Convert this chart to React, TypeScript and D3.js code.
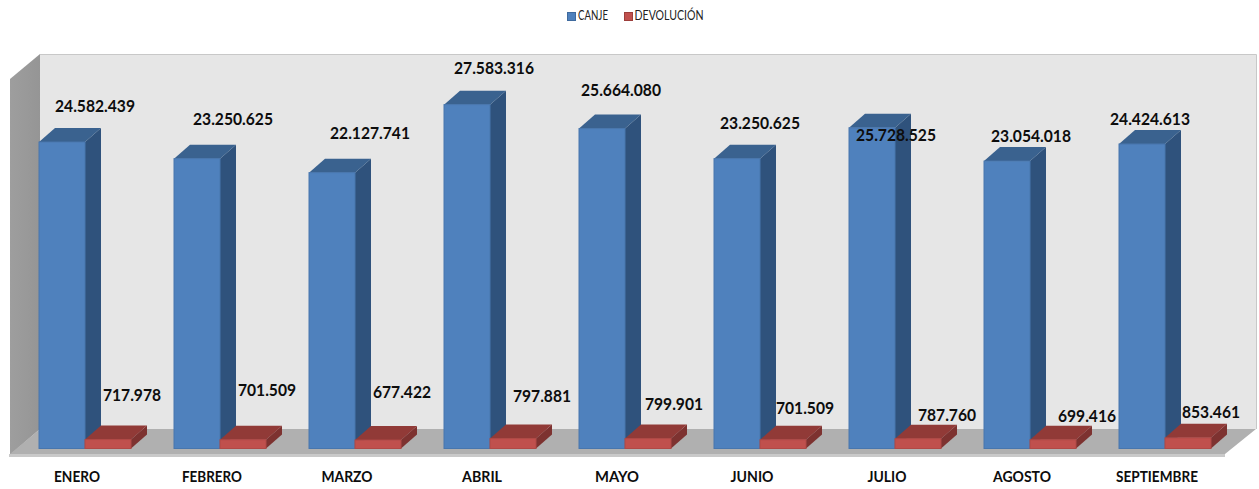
import React from "react";
import * as d3 from "d3";

const months = ["ENERO", "FEBRERO", "MARZO", "ABRIL", "MAYO", "JUNIO", "JULIO", "AGOSTO", "SEPTIEMBRE"];
const canje = [24582439, 23250625, 22127741, 27583316, 25664080, 23250625, 25728525, 23054018, 24424613];
const devolucion = [717978, 701509, 677422, 797881, 799901, 701509, 787760, 699416, 853461];
const seriesNames = ["CANJE", "DEVOLUCIÓN"];

// Hand-placed label anchors of the original (centre x, baseline-middle y), layout only.
const canjeLabelPos = [[95, 108], [233, 121], [370, 135], [494, 70], [621, 92], [760, 125], [896, 137], [1031, 138], [1150, 121]];
const devLabelPos = [[132, 397], [267, 392], [402, 394], [542, 398], [674, 406], [805, 410], [947, 417], [1087, 418], [1211, 414]];
const monthLabelWidths = [46, 60, 51, 40, 44, 43, 39, 58, 82];

const W = 1259, H = 489;
const DX = 16, DY = -14;
const FONT = "Lato, 'Open Sans', sans-serif";
const fmt = (v: number) => d3.format(",")(v).replace(/,/g, ".");

const x0 = d3.scaleBand<string>().domain(months).range([17.5, 1232.5]);
const x1 = d3.scaleBand<string>().domain(seriesNames).range([21.5, 113.5]);
const y = d3.scaleLinear().domain([0, 30000000]).range([448.5, 74.5]);

function Bar({ x, w, v, front, side, top }: { x: number; w: number; v: number; front: string; side: string; top: string }) {
  const yt = y(v), yb = y(0);
  const p = (pts: number[][]) => pts.map((q) => q.join(",")).join(" ");
  return (
    <g>
      <polygon points={p([[x + w, yt], [x + w + DX, yt + DY], [x + w + DX, yb + DY], [x + w, yb]])} fill={side} />
      <polygon points={p([[x, yt], [x + DX, yt + DY], [x + w + DX, yt + DY], [x + w, yt]])} fill={top} />
      <rect x={x} y={yt} width={w} height={yb - yt} fill={front} stroke={d3.color(front)!.darker(0.25).formatHex()} strokeWidth={1} />
    </g>
  );
}

export default function App() {
  return (
    <svg width={W} height={H} style={{ position: "absolute", left: 0, top: 0, background: "#fff" }}>
      <defs>
        <linearGradient id="wallL" x1="0" x2="1" y1="0" y2="0">
          <stop offset="0" stopColor="#9e9e9e" />
          <stop offset="1" stopColor="#959595" />
        </linearGradient>
      </defs>
      {/* walls and floor */}
      <polygon points="40,54 1256,54 1256,429 40,429" fill="#e6e6e6" />
      <path d="M40,54.5H1256.5V429" fill="none" stroke="#c8c8c8" strokeWidth={1} />
      <polygon points="10,79 40,54 40,429 10,455" fill="url(#wallL)" />
      <polygon points="10,454 40,429 1256,429 1225,454" fill="#b0b0b0" />
      <polygon points="9,454 1225,454 1225,457 9,457" fill="#c9c9c9" />

      {/* legend */}
      <rect x={567.5} y={12.5} width={8} height={8} fill="#4f81bd" stroke="#3f6a9e" />
      <text x={578} y={17} fontFamily={FONT} fontSize={12.5} dominantBaseline="middle" fill="#222" textLength={30} lengthAdjust="spacingAndGlyphs">{seriesNames[0]}</text>
      <rect x={624.5} y={12.5} width={8} height={8} fill="#c0504d" stroke="#9c3e3b" />
      <text x={634.5} y={17} fontFamily={FONT} fontSize={12.5} dominantBaseline="middle" fill="#222" textLength={69} lengthAdjust="spacingAndGlyphs">{seriesNames[1]}</text>

      {/* bars, back to front per category */}
      {months.map((m, i) => {
        const cx = x0(m)!;
        const w = x1.bandwidth();
        return (
          <g key={m}>
            <Bar x={cx + x1(seriesNames[0])!} w={w} v={canje[i]} front="#4f81bd" side="#2f527c" top="#3a628f" />
            <Bar x={cx + x1(seriesNames[1])!} w={w} v={devolucion[i]} front="#c0504d" side="#7d3230" top="#913a37" />
          </g>
        );
      })}

      {/* value labels */}
      {canje.map((v, i) => (
        <text key={i} x={canjeLabelPos[i][0]} y={canjeLabelPos[i][1]} textAnchor="middle" dominantBaseline="middle" fontFamily={FONT} fontWeight={700} fontSize={17} fill="#0d0d0d" textLength={80} lengthAdjust="spacingAndGlyphs">{fmt(v)}</text>
      ))}
      {devolucion.map((v, i) => (
        <text key={i} x={devLabelPos[i][0]} y={devLabelPos[i][1]} textAnchor="middle" dominantBaseline="middle" fontFamily={FONT} fontWeight={700} fontSize={17} fill="#0d0d0d" textLength={58} lengthAdjust="spacingAndGlyphs">{fmt(v)}</text>
      ))}

      {/* category labels */}
      {months.map((m, i) => (
        <text key={m} x={x0(m)! + x0.bandwidth() / 2 - 8} y={478} textAnchor="middle" dominantBaseline="middle" fontFamily={FONT} fontWeight={700} fontSize={15} fill="#0d0d0d" textLength={monthLabelWidths[i]} lengthAdjust="spacingAndGlyphs">{m}</text>
      ))}
    </svg>
  );
}
